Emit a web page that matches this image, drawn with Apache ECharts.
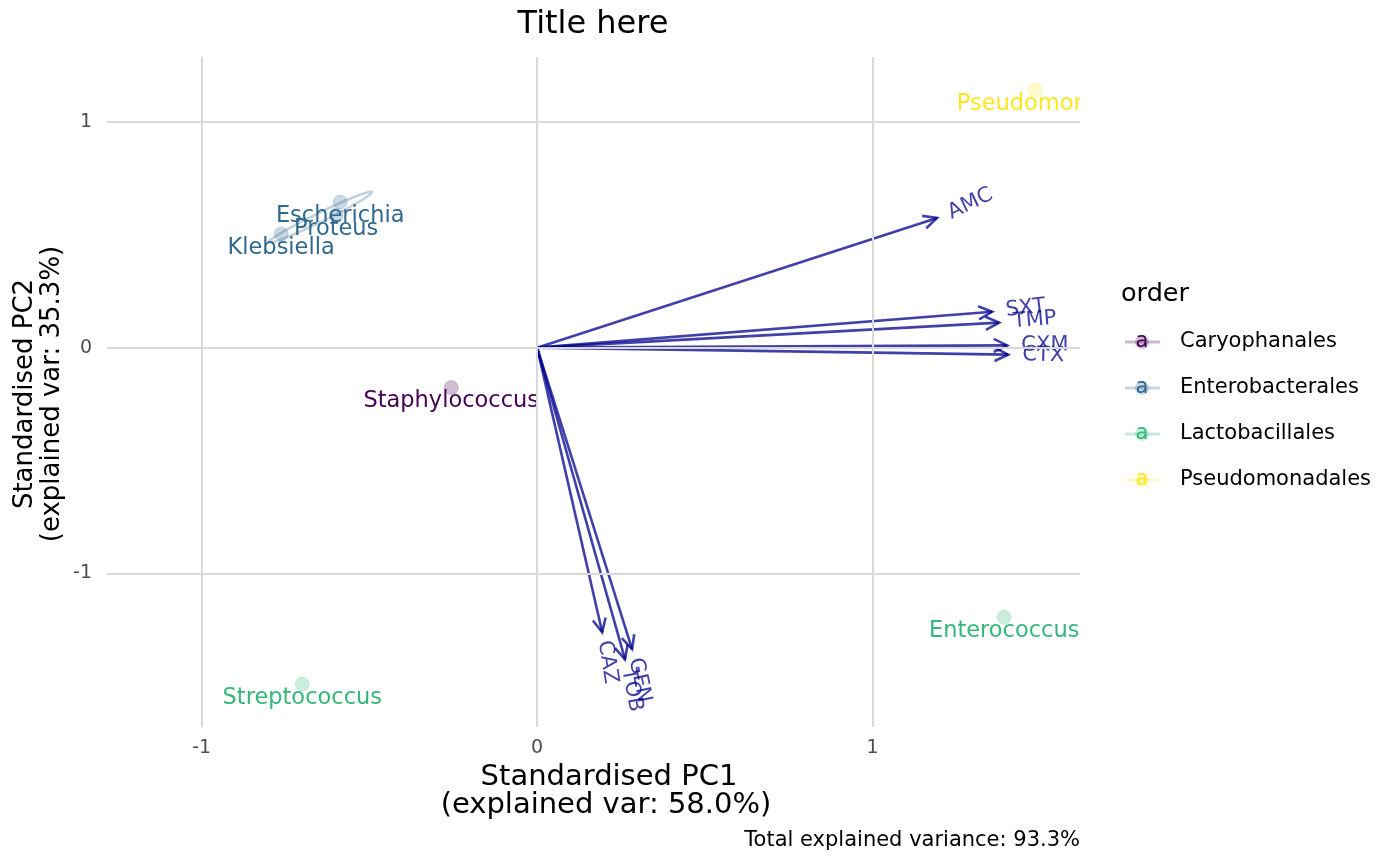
<!DOCTYPE html>
<html>
<head>
<meta charset="utf-8" />
<title>PCA biplot</title>
<script src="https://cdn.jsdelivr.net/npm/echarts@6/dist/echarts.min.js"></script>
<style>
  html, body { margin: 0; padding: 0; background: #fff; }
  #main { width: 1400px; height: 866px; }
</style>
</head>
<body>
<div id="main"></div>
<script>
// samples (genus), scores on PC1 / PC2 and their order
var genera = ['Pseudomonas', 'Enterococcus', 'Streptococcus', 'Staphylococcus', 'Escherichia', 'Klebsiella', 'Proteus'];
var pc1 = [1.484, 1.392, -0.700, -0.256, -0.587, -0.763, -0.599];
var pc2 = [1.142, -1.195, -1.491, -0.177, 0.646, 0.504, 0.588];
var genusOrder = ['Pseudomonadales', 'Lactobacillales', 'Lactobacillales', 'Caryophanales', 'Enterobacterales', 'Enterobacterales', 'Enterobacterales'];

// legend levels + viridis colours
var orders = ['Caryophanales', 'Enterobacterales', 'Lactobacillales', 'Pseudomonadales'];
var orderColors = ['#440154', '#31688E', '#35B779', '#FDE725'];

// loadings (arrows)
var vars = ['AMC', 'SXT', 'TMP', 'CXM', 'CTX', 'CAZ', 'TOB', 'GEN'];
var varX = [1.192, 1.356, 1.377, 1.401, 1.404, 0.194, 0.262, 0.283];
var varY = [0.575, 0.159, 0.111, 0.010, -0.031, -1.261, -1.381, -1.336];

// ellipse of Enterobacterales: two ends of the long axis
var ellipseEnds = [[-0.802, 0.465], [-0.492, 0.690]];

var tickValues = [-1, 0, 1];

var FONT = 'DejaVu Sans';
var arrowColor = 'rgba(0,0,139,0.75)';

function hexA(hex, a) {
  var n = parseInt(hex.slice(1), 16);
  return 'rgba(' + (n >> 16) + ',' + ((n >> 8) & 255) + ',' + (n & 255) + ',' + a + ')';
}
function colorOf(ord) { return orderColors[orders.indexOf(ord)]; }
function font(size) { return size + 'px "' + FONT + '"'; }

var myChart = echarts.init(document.getElementById('main'));

var series = [];

// grid lines
series.push({
  type: 'scatter', data: [], silent: true,
  markLine: {
    silent: true, symbol: 'none', label: { show: false },
    lineStyle: { color: '#d9d9d9', width: 2, type: 'solid' },
    animation: false,
    data: tickValues.map(function (v) { return { xAxis: v }; })
      .concat(tickValues.map(function (v) { return { yAxis: v }; }))
  }
});

// ellipse
series.push({
  type: 'custom', silent: true, clip: true,
  data: [[ellipseEnds[0][0], ellipseEnds[0][1], ellipseEnds[1][0], ellipseEnds[1][1]]],
  renderItem: function (params, api) {
    var a = api.coord([api.value(0), api.value(1)]);
    var b = api.coord([api.value(2), api.value(3)]);
    var dx = b[0] - a[0], dy = b[1] - a[1];
    return {
      type: 'ellipse',
      x: (a[0] + b[0]) / 2, y: (a[1] + b[1]) / 2,
      rotation: -Math.atan2(dy, dx),
      shape: { cx: 0, cy: 0, rx: Math.sqrt(dx * dx + dy * dy) / 2, ry: 4.5 },
      style: { fill: 'none', stroke: hexA(colorOf('Enterobacterales'), 0.3), lineWidth: 2.5 }
    };
  }
});

// points, one series per order
orders.forEach(function (ord, k) {
  var d = [];
  for (var i = 0; i < genera.length; i++) {
    if (genusOrder[i] === ord) d.push([pc1[i], pc2[i]]);
  }
  series.push({
    type: 'scatter', name: ord, data: d, symbolSize: 14,
    itemStyle: { color: hexA(orderColors[k], 0.25), borderColor: hexA(orderColors[k], 0.2), borderWidth: 1, opacity: 1 }
  });
});

// point labels
series.push({
  type: 'custom', silent: true, clip: true,
  data: genera.map(function (g, i) { return [pc1[i], pc2[i], i]; }),
  renderItem: function (params, api) {
    var i = api.value(2);
    var p = api.coord([api.value(0), api.value(1)]);
    return {
      type: 'text', x: p[0], y: p[1] + 14,
      style: { text: genera[i], fill: colorOf(genusOrder[i]), font: font(22.5), align: 'center', verticalAlign: 'middle' }
    };
  }
});

// arrows with labels
series.push({
  type: 'custom', silent: true, clip: false,
  data: vars.map(function (v, i) { return [varX[i], varY[i], i]; }),
  renderItem: function (params, api) {
    var i = api.value(2);
    var x = api.value(0), y = api.value(1);
    var o = api.coord([0, 0]);
    var t = api.coord([x, y]);
    var ang = Math.atan2(t[1] - o[1], t[0] - o[0]);
    var L = 15, w = 0.45;
    var h1 = [t[0] - L * Math.cos(ang - w), t[1] - L * Math.sin(ang - w)];
    var h2 = [t[0] - L * Math.cos(ang + w), t[1] - L * Math.sin(ang + w)];
    var lp = api.coord([x * 1.03, y * 1.03]);
    return {
      type: 'group',
      children: [
        { type: 'line', shape: { x1: o[0], y1: o[1], x2: t[0], y2: t[1] }, style: { stroke: arrowColor, lineWidth: 2.6 } },
        { type: 'polyline', shape: { points: [h1, t, h2] }, style: { stroke: arrowColor, lineWidth: 2.6, fill: 'none' } },
        {
          type: 'text', x: lp[0], y: lp[1], rotation: Math.atan(y / x),
          style: { text: vars[i], fill: arrowColor, font: font(21), align: 'left', verticalAlign: 'middle' }
        }
      ]
    };
  }
});

// titles, caption and legend drawn as graphics
var graphics = [
  { type: 'text', x: 593, y: 25, style: { text: 'Title here', font: font(32), fill: '#000', align: 'center', verticalAlign: 'middle' } },
  { type: 'text', x: 609, y: 777, style: { text: 'Standardised PC1', font: font(29), fill: '#000', align: 'center', verticalAlign: 'middle' } },
  { type: 'text', x: 606, y: 805, style: { text: '(explained var: 58.0%)', font: font(29), fill: '#000', align: 'center', verticalAlign: 'middle' } },
  { type: 'text', x: 25, y: 394, rotation: Math.PI / 2, style: { text: 'Standardised PC2', font: font(26), fill: '#000', align: 'center', verticalAlign: 'middle' } },
  { type: 'text', x: 52, y: 394, rotation: Math.PI / 2, style: { text: '(explained var: 35.3%)', font: font(26), fill: '#000', align: 'center', verticalAlign: 'middle' } },
  { type: 'text', x: 1080, y: 841, style: { text: 'Total explained variance: 93.3%', font: font(21), fill: '#000', align: 'right', verticalAlign: 'middle' } },
  { type: 'text', x: 1121, y: 294, style: { text: 'order', font: font(25.5), fill: '#000', align: 'left', verticalAlign: 'middle' } }
];
orders.forEach(function (ord, k) {
  var yy = 342 + k * 46;
  graphics.push(
    { type: 'line', shape: { x1: 1125, y1: yy, x2: 1160, y2: yy }, style: { stroke: hexA(orderColors[k], 0.28), lineWidth: 3 } },
    { type: 'circle', shape: { cx: 1142, cy: yy, r: 7 }, style: { fill: hexA(orderColors[k], 0.25) } },
    { type: 'text', x: 1142, y: yy, style: { text: 'a', font: font(21), fill: orderColors[k], align: 'center', verticalAlign: 'middle' } },
    { type: 'text', x: 1180, y: yy, style: { text: ord, font: font(21), fill: '#000', align: 'left', verticalAlign: 'middle' } }
  );
});

var option = {
  animation: false,
  textStyle: { fontFamily: FONT },
  grid: { left: 107, right: 320, top: 57, bottom: 139 },
  xAxis: {
    type: 'value', min: -1.282, max: 1.618,
    axisLine: { show: false }, axisTick: { show: false }, splitLine: { show: false },
    axisLabel: { customValues: tickValues, color: '#4d4d4d', fontSize: 19, margin: 12 }
  },
  yAxis: {
    type: 'value', min: -1.681, max: 1.288,
    axisLine: { show: false }, axisTick: { show: false }, splitLine: { show: false },
    axisLabel: { customValues: tickValues, color: '#4d4d4d', fontSize: 19, margin: 15 }
  },
  series: series,
  graphic: graphics
};
myChart.setOption(option);
</script>
</body>
</html>
